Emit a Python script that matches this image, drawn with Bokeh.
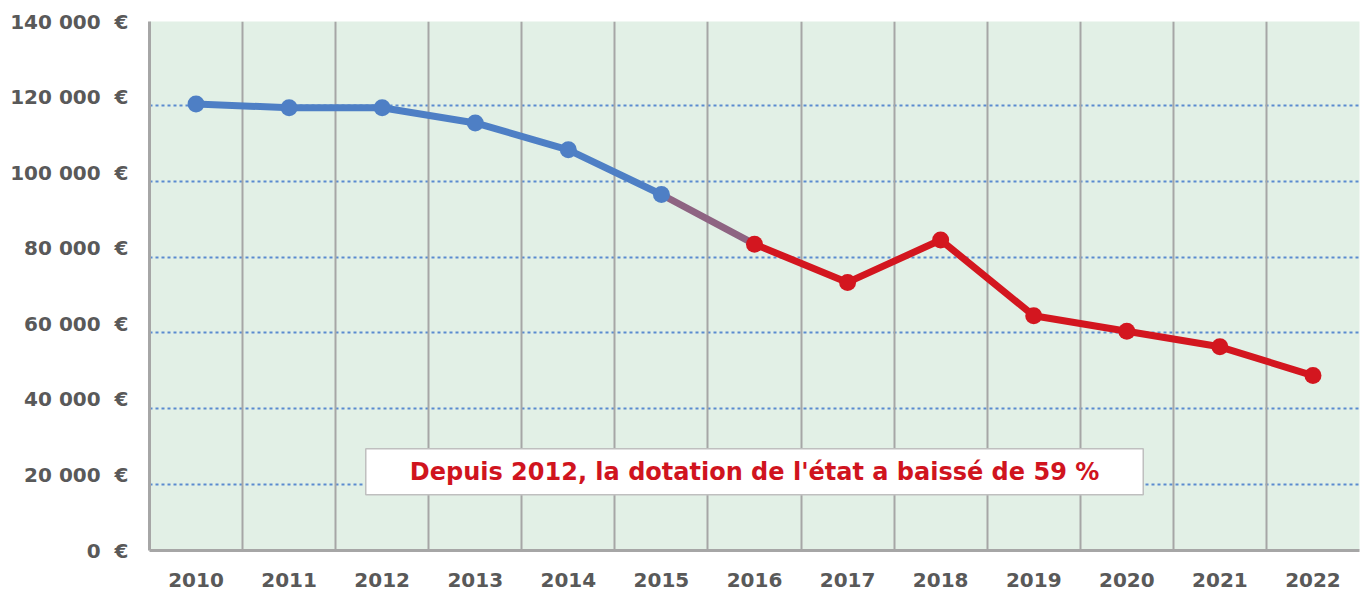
from bokeh.plotting import figure
from bokeh.models import Range1d, LinearAxis, FixedTicker, Grid, Label
from bokeh.embed import file_html
from bokeh.resources import INLINE

# ---- data ----
years = [2010, 2011, 2012, 2013, 2014, 2015, 2016, 2017, 2018, 2019, 2020, 2021, 2022]
values = [120400, 119400, 119400, 115400, 108300, 96500, 83400, 73300, 84500, 64500, 60400, 56300, 48700]
xtick_labels = ["2010", "2011", "2012", "2013", "2014", "2015", "2016", "2017", "2018",
                "2019", "2020", "2021", "2022"]
ytick_values = [0, 20000, 40000, 60000, 80000, 100000, 120000, 140000]
ytick_labels = ["0 \u00a0€", "20 000 \u00a0€", "40 000 \u00a0€", "60 000 \u00a0€", "80 000 \u00a0€",
                "100 000 \u00a0€", "120 000 \u00a0€", "140 000 \u00a0€"]
grid_values = [20000, 40000, 60000, 80000, 100000, 120000]
annotation_text = "Depuis 2012, la dotation de l'état a baissé de 59 %"

blue_years, blue_values = years[:6], values[:6]
red_years, red_values = years[6:], values[6:]

BLUE = "#4E7FC5"
RED = "#D3161F"
MID = "#8E6482"
GREY = "#A6A6A6"
TEXT = "#595959"
FONT = "DejaVu Sans"

p = figure(
    frame_width=1210, frame_height=529,
    x_range=Range1d(2009.5, 2022.5),
    y_range=Range1d(2534, 142174),
    y_axis_location=None,
    output_backend="svg", toolbar_location=None,
    min_border_left=149, min_border_right=4, min_border_top=21, min_border_bottom=41,
)
p.extra_y_ranges = {"lbl": Range1d(0, 140000)}
p.background_fill_color = "#E2F0E6"
p.border_fill_color = "white"
p.outline_line_color = None

# remove default grids
for g in list(p.xgrid) + list(p.ygrid):
    g.visible = False

# horizontal dotted grid
hgrid = Grid(dimension=1, ticker=FixedTicker(ticks=grid_values),
             grid_line_color="#5B8BD0", grid_line_width=2, grid_line_dash="3 3")
p.add_layout(hgrid, "center")
# vertical category boundary grid
vgrid = Grid(dimension=0, ticker=FixedTicker(ticks=[y + 0.5 for y in [years[0] - 1] + years]),
             grid_line_color=GREY, grid_line_width=2)
p.add_layout(vgrid, "center")

# x axis
xa = p.xaxis[0]
xa.ticker = FixedTicker(ticks=years)
xa.major_label_overrides = {y: lab for y, lab in zip(years, xtick_labels)}
xa.axis_line_color = GREY
xa.axis_line_width = 3
xa.major_tick_line_color = None
xa.minor_tick_line_color = None
xa.major_tick_out = 0
xa.major_label_standoff = 22
xa.major_label_text_font = FONT
xa.major_label_text_font_style = "bold"
xa.major_label_text_font_size = "20px"
xa.major_label_text_color = TEXT

# y axis (labels)
ya = LinearAxis(y_range_name="lbl", ticker=FixedTicker(ticks=ytick_values),
                major_label_overrides={v: lab for v, lab in zip(ytick_values, ytick_labels)})
ya.axis_line_color = GREY
ya.axis_line_width = 3
ya.major_tick_line_color = None
ya.minor_tick_line_color = None
ya.major_tick_out = 0
ya.major_label_standoff = 21
ya.major_label_text_font = FONT
ya.major_label_text_font_style = "bold"
ya.major_label_text_font_size = "20px"
ya.major_label_text_color = TEXT
p.add_layout(ya, "left")

# lines
p.line(blue_years, blue_values, line_color=BLUE, line_width=7, line_join="round", line_cap="round")
p.segment(x0=[years[5]], y0=[values[5]], x1=[years[6]], y1=[values[6]],
          line_color=MID, line_width=7, line_cap="round")
p.line(red_years, red_values, line_color=RED, line_width=7, line_join="round", line_cap="round")

# markers
p.scatter(blue_years, blue_values, size=17, fill_color=BLUE, line_color=None)
p.scatter(red_years, red_values, size=17, fill_color=RED, line_color=None)

# annotation
lab = Label(x=2016, y=23300, text=annotation_text,
            text_align="center", text_baseline="middle",
            text_font=FONT, text_font_style="bold", text_font_size="24px", text_color="#D0141E",
            background_fill_color="white", border_line_color="#BFBFBF", border_line_width=1.5,
            padding=dict(left=44, right=44, top=9, bottom=9))
p.add_layout(lab)

open("out.html", "w").write(file_html(p, INLINE))
